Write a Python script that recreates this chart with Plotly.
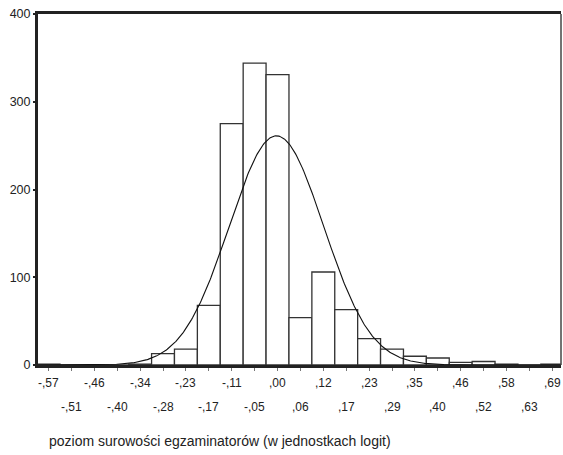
import numpy as np
import plotly.graph_objects as go

# ---- data ----
bin_centers = [-0.57, -0.51, -0.46, -0.40, -0.34, -0.28, -0.23, -0.17, -0.11, -0.05,
               0.00, 0.06, 0.12, 0.17, 0.23, 0.29, 0.35, 0.40, 0.46, 0.52, 0.58, 0.63, 0.69]
tick_labels = ["-,57", "-,51", "-,46", "-,40", "-,34", "-,28", "-,23", "-,17", "-,11", "-,05",
               ",00", ",06", ",12", ",17", ",23", ",29", ",35", ",40", ",46", ",52", ",58", ",63", ",69"]
counts = [1, 0, 0, 0, 1, 13, 18, 68, 275, 344,
          331, 54, 106, 63, 30, 18, 10, 8, 3, 4, 1, 0, 1]
curve_mean = 0.0
curve_sd = 0.118
x_title = "poziom surowości egzaminatorów (w jednostkach logit)"

# ---- derived ----
first, last = bin_centers[0], bin_centers[-1]
bw = (last - first) / (len(bin_centers) - 1)
centers = [first + i * bw for i in range(len(bin_centers))]
n_total = sum(counts)
xr = [first - 0.46 * bw, last + 0.38 * bw]
xs = np.linspace(xr[0], xr[1], 600)
ys = n_total * bw / (curve_sd * np.sqrt(2 * np.pi)) * np.exp(-0.5 * ((xs - curve_mean) / curve_sd) ** 2)

fig = go.Figure()
fig.add_trace(go.Bar(
    x=centers, y=counts, width=bw,
    marker=dict(color="white", line=dict(color="#333333", width=1.3)),
    hoverinfo="skip"))
fig.add_trace(go.Scatter(x=xs, y=ys, mode="lines",
                         line=dict(color="#111111", width=1.1), hoverinfo="skip"))

font_family = "Liberation Sans, Arial, sans-serif"
annotations = []
for i, (c, t) in enumerate(zip(centers, tick_labels)):
    annotations.append(dict(
        x=c, y=0, xref="x", yref="y", text=t, showarrow=False,
        xanchor="center", yanchor="top", yshift=-9 if i % 2 == 0 else -33,
        font=dict(family=font_family, size=12, color="#222222")))
annotations.append(dict(
    x=0.017, y=-0.216, xref="paper", yref="paper", text=x_title, showarrow=False,
    xanchor="left", yanchor="middle",
    font=dict(family=font_family, size=14, color="#222222")))

fig.update_layout(
    width=563, height=455,
    margin=dict(l=38, r=2, t=14, b=90),
    paper_bgcolor="white", plot_bgcolor="white",
    showlegend=False, bargap=0,
    font=dict(family=font_family, size=12, color="#222222"),
    xaxis=dict(range=xr, showgrid=False, zeroline=False, automargin=False,
               showline=True, linecolor="#222222", linewidth=3, mirror=True,
               tickvals=centers, showticklabels=False,
               ticks="outside", ticklen=3, tickwidth=1, tickcolor="#777777"),
    yaxis=dict(range=[0, 400], showgrid=False, zeroline=False, automargin=False,
               showline=True, linecolor="#222222", linewidth=3,
               tickvals=[0, 100, 200, 300, 400], ticklabeloverflow="allow",
               ticks="outside", ticklen=2, tickwidth=2, tickcolor="#222222",
               tickfont=dict(family=font_family, size=12.5, color="#222222")),
    annotations=annotations,
    shapes=[dict(type="line", xref="paper", yref="paper", x0=1, x1=1, y0=0, y1=1,
                 line=dict(color="#444444", width=1.5))],
)

# remove the default 8px page margin so the figure sits at the window's top-left
fig.write_html("out.html",
               config={"displayModeBar": False, "staticPlot": True},
               post_script="document.body.style.margin='0';document.body.style.overflow='hidden';")
